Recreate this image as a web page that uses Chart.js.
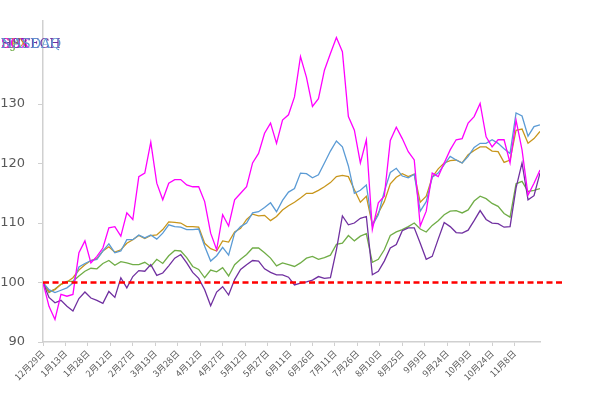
<!DOCTYPE html>
<html>
<head>
<meta charset="utf-8">
<script src="https://cdn.jsdelivr.net/npm/chart.js@4.4.0/dist/chart.umd.min.js"></script>
<style>
  body { margin: 0; background: #fff; }
  #chart { display: block; }
</style>
</head>
<body>
<canvas id="chart" width="600" height="395"></canvas>
<script>

// day offsets from 12月29日 (sampled every 4 days)
var days = [0, 4, 8, 12, 16, 20, 24, 28, 32, 36, 40, 44, 48, 52, 56, 60, 64, 68, 72, 76, 80, 84, 88, 92, 96, 100, 104, 108,
	112, 116, 120, 124, 128, 132, 136, 140, 144, 148, 152, 156, 160, 164, 168, 172, 176, 180, 184, 188, 192, 196, 200, 204, 208, 212, 216,
	220, 224, 228, 232, 236, 240, 244, 248, 252, 256, 260, 264, 268, 272, 276, 280, 284, 288, 292, 296, 300, 304, 308, 312, 316, 320, 324, 328, 332];

var tickLabels = ["12月29日", "1月13日", "1月28日", "2月12日", "2月27日", "3月13日", "3月28日", "4月12日", "4月27日", "5月12日", "5月27日",
	"6月11日", "6月26日", "7月11日", "7月26日", "8月10日", "8月25日", "9月9日", "9月24日", "10月9日", "10月24日", "11月8日"];
var tickStep = 15;

var seriesNames = ["DJI", "SPX", "NASDAQ", "HSTECH", "SOX"];

var magenta = [100, 96.0, 93.8, 98.0, 97.7, 98.0, 105.0, 107.0, 103.3, 104.4, 105.8, 109.2, 109.4, 107.8, 111.7, 110.6, 117.8, 118.4, 123.6, 116.7, 113.9, 116.7, 117.3, 117.3, 116.4, 116.1, 116.1, 113.6,
	108.3, 105.5, 111.4, 109.5, 113.9, 115.0, 116.1, 120.1, 121.7, 125.1, 126.8, 123.4, 127.3, 128.2, 131.2, 138.0, 134.5, 129.6, 130.9, 135.7, 138.5, 141.2, 138.8, 127.9, 125.6, 120.1, 124.0,
	108.9, 113.4, 114.5, 123.9, 126.1, 124.2, 122.0, 120.6, 109.5, 112.0, 118.4, 117.8, 120.1, 122.3, 124.0, 124.2, 126.8, 127.9, 130.1, 124.5, 122.8, 124.0, 124.0, 120.1, 127.3, 122.3, 114.7, 116.7, 118.9];

var blue = [100, 98.8, 98.3, 98.7, 99.1, 99.9, 102.6, 103.2, 103.7, 103.9, 105.3, 106.5, 105.0, 105.3, 107.2, 107.2, 108.0, 107.5, 108.0, 107.3, 108.3, 109.7, 109.4, 109.3, 108.9, 108.9, 109.0, 106.1,
	103.6, 104.5, 105.9, 104.6, 108.3, 109.4, 110.0, 111.7, 111.9, 112.6, 113.4, 111.9, 113.8, 115.2, 115.8, 118.4, 118.3, 117.6, 118.1, 120.1, 122.1, 123.8, 122.8, 119.6, 115.0, 115.5, 116.4,
	109.6, 111.4, 115.3, 118.5, 119.2, 117.9, 117.6, 118.2, 112.0, 113.6, 117.7, 118.4, 119.8, 121.2, 120.6, 120.1, 121.2, 122.7, 123.4, 123.4, 124.0, 123.4, 122.5, 121.7, 128.5, 128.0, 124.6, 126.2, 126.5];

var orange = [100, 98.5, 98.8, 99.7, 100.1, 100.8, 102.1, 103.0, 103.7, 104.0, 105.3, 106.0, 105.1, 105.5, 106.6, 107.2, 107.9, 107.4, 107.9, 108.0, 108.9, 110.2, 110.1, 110.0, 109.4, 109.4, 109.3, 106.6,
	105.7, 105.3, 107.0, 106.8, 108.5, 109.1, 110.6, 111.5, 111.2, 111.3, 110.4, 111.1, 112.2, 112.9, 113.5, 114.2, 115.0, 115.0, 115.5, 116.1, 116.8, 117.8, 118.0, 117.8, 115.6, 113.5, 114.5,
	109.7, 111.7, 113.6, 116.6, 117.7, 118.3, 117.8, 118.2, 113.5, 114.5, 117.7, 119.1, 120.1, 120.5, 120.6, 120.1, 121.5, 122.2, 122.8, 122.8, 122.1, 122.0, 120.2, 120.6, 125.6, 125.8, 123.4, 124.2, 125.4];

var green = [100, 98.3, 98.9, 99.7, 100.2, 100.2, 101.1, 101.9, 102.4, 102.3, 103.2, 103.7, 102.9, 103.5, 103.3, 103.0, 103.0, 103.4, 102.7, 103.9, 103.2, 104.5, 105.4, 105.3, 104.2, 102.7, 102.2, 100.8,
	102.1, 101.8, 102.5, 101.1, 103.0, 103.9, 104.7, 105.8, 105.8, 105.0, 104.1, 102.8, 103.3, 103.0, 102.7, 103.3, 104.1, 104.4, 103.9, 104.2, 104.6, 106.4, 106.6, 107.9, 107.0, 107.8, 108.2,
	103.4, 103.9, 105.5, 107.9, 108.5, 108.9, 109.4, 110.0, 109.0, 108.5, 109.6, 110.4, 111.4, 112.0, 112.1, 111.7, 112.2, 113.7, 114.5, 114.1, 113.3, 112.8, 111.6, 111.0, 116.6, 117.0, 115.3, 115.5, 115.8];

var purple = [100, 97.5, 96.6, 97.0, 96.0, 95.2, 97.3, 98.4, 97.4, 97.0, 96.5, 98.5, 97.5, 100.8, 99.1, 101.0, 102.0, 101.9, 103.0, 101.2, 101.6, 102.8, 104.1, 104.7, 103.3, 101.7, 100.7, 98.8,
	96.1, 98.4, 99.3, 97.9, 100.5, 102.2, 103.0, 103.7, 103.6, 102.3, 101.7, 101.3, 101.3, 100.9, 99.6, 99.9, 100.1, 100.4, 101.0, 100.7, 100.8, 105.5, 111.2, 109.7, 110.0, 110.8, 111.1,
	101.3, 101.9, 103.6, 105.8, 106.4, 108.7, 109.2, 109.2, 106.6, 103.9, 104.4, 107.3, 110.1, 109.4, 108.4, 108.3, 108.8, 110.4, 112.1, 110.6, 110.0, 109.9, 109.3, 109.4, 115.9, 120.1, 113.9, 114.6, 118.4];

// reference level and how far the dashed line runs
var baseLevel = 100;
var baseLineDays = [0, 348];

var yTicks = [90, 100, 110, 120, 130];

function toPoints(vals) {
	return days.map(function(d, i) { return { x: d, y: vals[i] }; });
}

var colors = {
	green: "#70AD47",
	orange: "#C8961C",
	blue: "#5B9BD5",
	purple: "#7030A0",
	magenta: "#FF00FF"
};

// overlapping legend texts like the original (all drawn at the same spot)
var stackedLegend = {
	id: "stackedLegend",
	afterDraw: function(chart) {
		var c = chart.ctx;
		c.save();
		c.font = "13px 'DejaVu Serif'";
		c.textBaseline = "middle";
		c.textAlign = "left";
		var order = [colors.green, colors.orange, colors.magenta, colors.purple, colors.blue];
		var names = [seriesNames[0], seriesNames[1], seriesNames[4], seriesNames[3], seriesNames[2]];
		for (var i = 0; i < names.length; i++) {
			c.fillStyle = order[i];
			c.fillText(names[i], 1, 45);
		}
		c.restore();
	}
};

var ds = function(label, vals, color, order) {
	return {
		label: label,
		data: toPoints(vals),
		borderColor: color,
		backgroundColor: color,
		borderWidth: 1.3,
		pointRadius: 0,
		tension: 0,
		fill: false,
		order: order
	};
};

var chart = new Chart(document.getElementById("chart"), {
	type: "line",
	data: {
		datasets: [
			ds(seriesNames[0], green, colors.green, 6),
			ds(seriesNames[1], orange, colors.orange, 5),
			ds(seriesNames[2], blue, colors.blue, 4),
			ds(seriesNames[3], purple, colors.purple, 3),
			ds(seriesNames[4], magenta, colors.magenta, 2),
			{
				label: "base",
				data: baseLineDays.map(function(d) { return { x: d, y: baseLevel }; }),
				borderColor: "#FF0000",
				borderWidth: 2.5,
				borderDash: [6, 3.5],
				pointRadius: 0,
				fill: false,
				clip: false,
				order: 0
			}
		]
	},
	options: {
		responsive: false,
		animation: false,
		layout: { padding: { top: 6, right: 60, left: 0, bottom: 0 } },
		plugins: {
			legend: { display: false },
			tooltip: { enabled: false }
		},
		scales: {
			x: {
				type: "linear",
				min: 0,
				max: 332,
				afterBuildTicks: function(scale) {
					scale.ticks = tickLabels.map(function(t, i) { return { value: i * tickStep }; });
				},
				afterFit: function(scale) { scale.height = 53; },
				grid: { display: true, drawOnChartArea: false, tickLength: 4, color: "#D0D0D0" },
				border: { color: "#D0D0D0", width: 1.5 },
				ticks: {
					autoSkip: false,
					minRotation: 45,
					maxRotation: 45,
					padding: 2,
					color: "#595959",
					font: { family: "'Noto Sans CJK SC'", size: 9 },
					callback: function(v) { return tickLabels[Math.round(v / tickStep)] || ""; }
				}
			},
			y: {
				min: 90,
				max: 144,
				afterBuildTicks: function(scale) {
					scale.ticks = yTicks.map(function(v) { return { value: v }; });
				},
				afterFit: function(scale) { scale.width = 43; },
				grid: { display: true, drawOnChartArea: false, tickLength: 5, color: "#D0D0D0" },
				border: { color: "#D0D0D0", width: 1.5 },
				ticks: {
					padding: 13,
					color: "#595959",
					font: { family: "'DejaVu Sans'", size: 13 }
				}
			}
		}
	},
	plugins: [stackedLegend]
});
</script>
</body>
</html>
